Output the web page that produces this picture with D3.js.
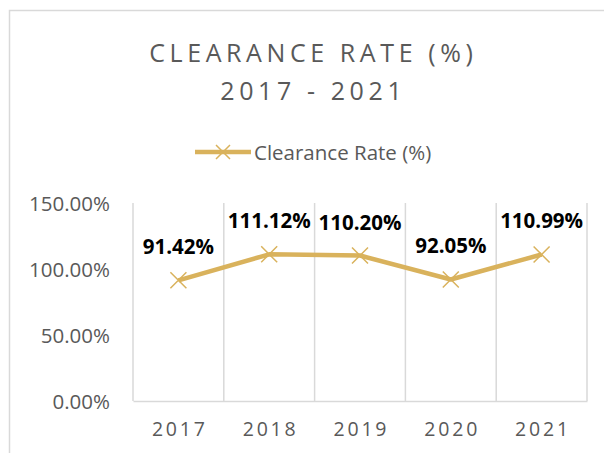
<!DOCTYPE html>
<html>
<head>
<meta charset="utf-8">
<script src="https://cdn.jsdelivr.net/npm/d3@7"></script>
<style>
  html, body { margin: 0; padding: 0; background: #fff; }
  svg { display: block; font-family: "Open Sans", sans-serif; }
</style>
</head>
<body>
<svg id="chart" width="604" height="453"></svg>
<script>
// Clearance rate by year
const years = ["2017", "2018", "2019", "2020", "2021"];
const clearanceRate = [91.42, 111.12, 110.20, 92.05, 110.99];
const yTicks = [0, 50, 100, 150];
const titleLines = ["CLEARANCE RATE (%)", "2017 - 2021"];
const seriesName = "Clearance Rate (%)";

const lineColor = "#D9B25C";
const gridColor = "#D9D9D9";
const textColor = "#595959";

const svg = d3.select("#chart");

// chart frame
svg.append("rect")
  .attr("x", 9.5).attr("y", 10.5)
  .attr("width", 604).attr("height", 460)
  .attr("fill", "#fff")
  .attr("stroke", gridColor).attr("stroke-width", 1.5);

const plot = { left: 133, right: 587, top: 203, bottom: 401 };

const x = d3.scaleBand().domain(years).range([plot.left, plot.right]).padding(0);
const y = d3.scaleLinear().domain([0, 150]).range([plot.bottom, plot.top]);

// title
const title = svg.append("text")
  .attr("text-anchor", "middle")
  .attr("fill", textColor)
  .attr("font-size", 25)
  .attr("letter-spacing", 4.6);
title.selectAll("tspan").data(titleLines).join("tspan")
  .attr("x", 311 + 2.3)
  .attr("y", (d, i) => 62 + i * 38)
  .text(d => d);

// legend
const legend = svg.append("g").attr("transform", "translate(195,152)");
legend.append("line")
  .attr("x1", 0).attr("x2", 56).attr("y1", 0).attr("y2", 0)
  .attr("stroke", lineColor).attr("stroke-width", 4.5);
legend.append("path")
  .attr("transform", "translate(28,0)")
  .attr("d", "M-7,-7L7,7M-7,7L7,-7")
  .attr("stroke", lineColor).attr("stroke-width", 1.5).attr("fill", "none");
legend.append("text")
  .attr("x", 59).attr("y", 7.5)
  .attr("fill", textColor)
  .attr("font-size", 20.5)
  .text(seriesName);

// vertical gridlines at the category boundaries
const bounds = years.map(d => x(d)).concat([x(years[years.length - 1]) + x.bandwidth()]);
svg.append("g").selectAll("line").data(bounds).join("line")
  .attr("x1", d => d).attr("x2", d => d)
  .attr("y1", plot.top).attr("y2", plot.bottom)
  .attr("stroke", gridColor).attr("stroke-width", 1.5);

// y axis
const yAxis = svg.append("g")
  .attr("transform", `translate(${plot.left},0)`)
  .call(d3.axisLeft(y).tickValues(yTicks).tickSize(0).tickPadding(23)
    .tickFormat(d => d.toFixed(2) + "%"));
yAxis.select(".domain").remove();
yAxis.selectAll("text")
  .attr("fill", textColor)
  .attr("font-size", 20.5)
  .attr("font-family", "Open Sans, sans-serif")
  .attr("dy", "0.36em");

// x axis
const xAxis = svg.append("g")
  .attr("transform", `translate(0,${plot.bottom})`)
  .call(d3.axisBottom(x).tickSize(0).tickPadding(0));
xAxis.select(".domain")
  .attr("stroke", gridColor).attr("stroke-width", 1.5);
xAxis.selectAll("text")
  .attr("fill", textColor)
  .attr("font-size", 19.5)
  .attr("font-family", "Open Sans, sans-serif")
  .attr("letter-spacing", 2.8)
  .attr("x", 1.4)
  .attr("y", 35)
  .attr("dy", 0);

// series line
const pts = years.map((d, i) => [x(d) + x.bandwidth() / 2, y(clearanceRate[i])]);
svg.append("path")
  .datum(pts)
  .attr("d", d3.line())
  .attr("fill", "none")
  .attr("stroke", lineColor)
  .attr("stroke-width", 4.5)
  .attr("stroke-linejoin", "round");

// markers
svg.append("g").selectAll("path").data(pts).join("path")
  .attr("transform", d => `translate(${d[0]},${d[1]})`)
  .attr("d", "M-8,-8L8,8M-8,8L8,-8")
  .attr("stroke", lineColor).attr("stroke-width", 1.5).attr("fill", "none");

// data labels
svg.append("g").selectAll("text").data(pts).join("text")
  .attr("x", d => d[0])
  .attr("y", d => d[1] - 26)
  .attr("text-anchor", "middle")
  .attr("font-size", 20.5)
  .attr("font-weight", "bold")
  .attr("fill", "#000")
  .text((d, i) => clearanceRate[i].toFixed(2) + "%");
</script>
</body>
</html>
